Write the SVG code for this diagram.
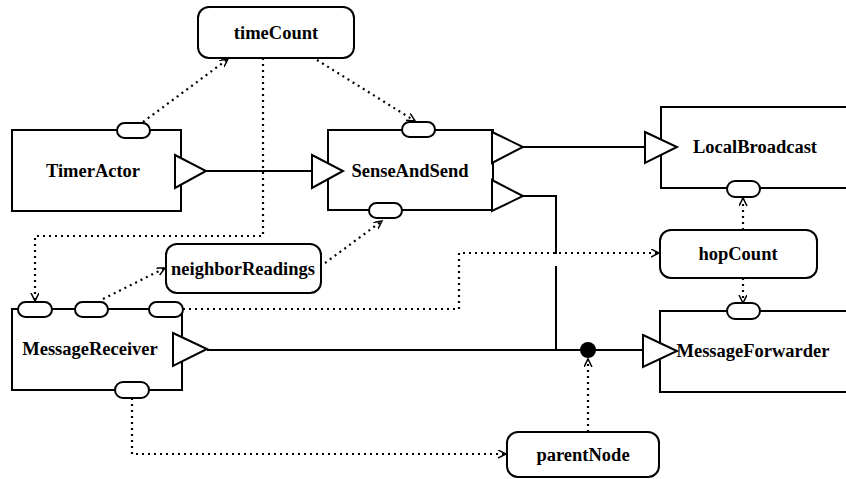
<svg xmlns="http://www.w3.org/2000/svg" width="846" height="479" viewBox="0 0 846 479">
<defs>
<marker id="arr" markerWidth="10" markerHeight="10" refX="8" refY="4" orient="auto" markerUnits="userSpaceOnUse">
<path d="M0,0 L8,4 L0,8" fill="none" stroke="#000" stroke-width="1.5"/>
</marker>
<style>
.box{fill:#fff;stroke:#000;stroke-width:2}
.pill{fill:#fff;stroke:#000;stroke-width:2}
.tri{fill:#fff;stroke:#000;stroke-width:2;stroke-linejoin:miter}
.solid{fill:none;stroke:#000;stroke-width:2}
.dot{fill:none;stroke:#000;stroke-width:2.2;stroke-dasharray:2 4}
.lbl{font-family:"Liberation Serif","Times New Roman",serif;font-weight:bold;font-size:18.5px;fill:#000;text-anchor:middle;dominant-baseline:central}
</style>
</defs>
<rect width="846" height="479" fill="#fff"/>
<g id="connectors">
<line class="solid" x1="206" y1="171" x2="312" y2="171"/>
<line class="solid" x1="523" y1="147" x2="645" y2="147"/>
<polyline class="solid" points="523,196 556,196 556,254"/>
<line class="solid" x1="556" y1="266" x2="556" y2="350"/>
<line class="solid" x1="207" y1="350" x2="643" y2="350"/>
<circle cx="588" cy="350" r="8" fill="#000"/>
<line class="dot" x1="143" y1="122" x2="228" y2="59" marker-end="url(#arr)"/>
<line class="dot" x1="317" y1="60" x2="415" y2="121" marker-end="url(#arr)"/>
<polyline class="dot" points="263,58 263,236 35,236 35,301" marker-end="url(#arr)"/>
<line class="dot" x1="103" y1="299" x2="165" y2="268" marker-end="url(#arr)"/>
<line class="dot" x1="325" y1="263" x2="382" y2="221" marker-end="url(#arr)"/>
<polyline class="dot" points="183,309 459,309 459,253 659,253" marker-end="url(#arr)"/>
<polyline class="dot" points="132,398 132,454 506,454" marker-end="url(#arr)"/>
<line class="dot" x1="743" y1="230" x2="743" y2="198" marker-end="url(#arr)"/>
<line class="dot" x1="743" y1="278" x2="743" y2="303" marker-end="url(#arr)"/>
<line class="dot" x1="588" y1="432" x2="588" y2="359" marker-end="url(#arr)"/>
</g>
<g id="timeCount">
<rect class="box" x="198" y="7" width="156" height="51" rx="11"/>
<text class="lbl" x="276" y="33">timeCount</text>
</g>
<g id="TimerActor">
<rect class="box" x="12" y="130" width="169" height="81"/>
<rect class="pill" x="117" y="123" width="33" height="15" rx="7.5"/>
<polygon class="tri" points="175,155 206,171 175,188"/>
<text class="lbl" x="93" y="171">TimerActor</text>
</g>
<g id="SenseAndSend">
<rect class="box" x="328" y="130" width="165" height="80"/>
<rect class="pill" x="402" y="122" width="33" height="15" rx="7.5"/>
<rect class="pill" x="369" y="203" width="33" height="15" rx="7.5"/>
<polygon class="tri" points="312,155 343,171 312,188"/>
<polygon class="tri" points="492,132 523,147 492,163"/>
<polygon class="tri" points="492,180 523,196 492,211"/>
<text class="lbl" x="410" y="171">SenseAndSend</text>
</g>
<g id="LocalBroadcast">
<polyline class="solid" points="850,107 661,107 661,188 850,188"/>
<rect class="pill" x="727" y="181" width="33" height="16" rx="8"/>
<polygon class="tri" points="645,132 677,147 645,163"/>
<text class="lbl" x="755" y="147">LocalBroadcast</text>
</g>
<g id="hopCount">
<rect class="box" x="660" y="230" width="157" height="48" rx="11"/>
<text class="lbl" x="738" y="254">hopCount</text>
</g>
<g id="MessageForwarder">
<polyline class="solid" points="850,311 660,311 660,392 850,392"/>
<rect class="pill" x="727" y="303" width="33" height="16" rx="8"/>
<polygon class="tri" points="643,335 677,351 643,367"/>
<text class="lbl" x="753" y="351">MessageForwarder</text>
</g>
<g id="neighborReadings">
<rect class="box" x="166" y="244" width="155" height="49" rx="11"/>
<text class="lbl" x="243" y="269">neighborReadings</text>
</g>
<g id="MessageReceiver">
<rect class="box" x="12" y="309" width="170" height="81"/>
<rect class="pill" x="18" y="302" width="34" height="15" rx="7.5"/>
<rect class="pill" x="75" y="302" width="33" height="15" rx="7.5"/>
<rect class="pill" x="149" y="302" width="34" height="15" rx="7.5"/>
<rect class="pill" x="115" y="382" width="34" height="16" rx="8"/>
<polygon class="tri" points="173,333 207,349 173,366"/>
<text class="lbl" x="90" y="349">MessageReceiver</text>
</g>
<g id="parentNode">
<rect class="box" x="507" y="432" width="152" height="45" rx="11"/>
<text class="lbl" x="583" y="455">parentNode</text>
</g>
</svg>
